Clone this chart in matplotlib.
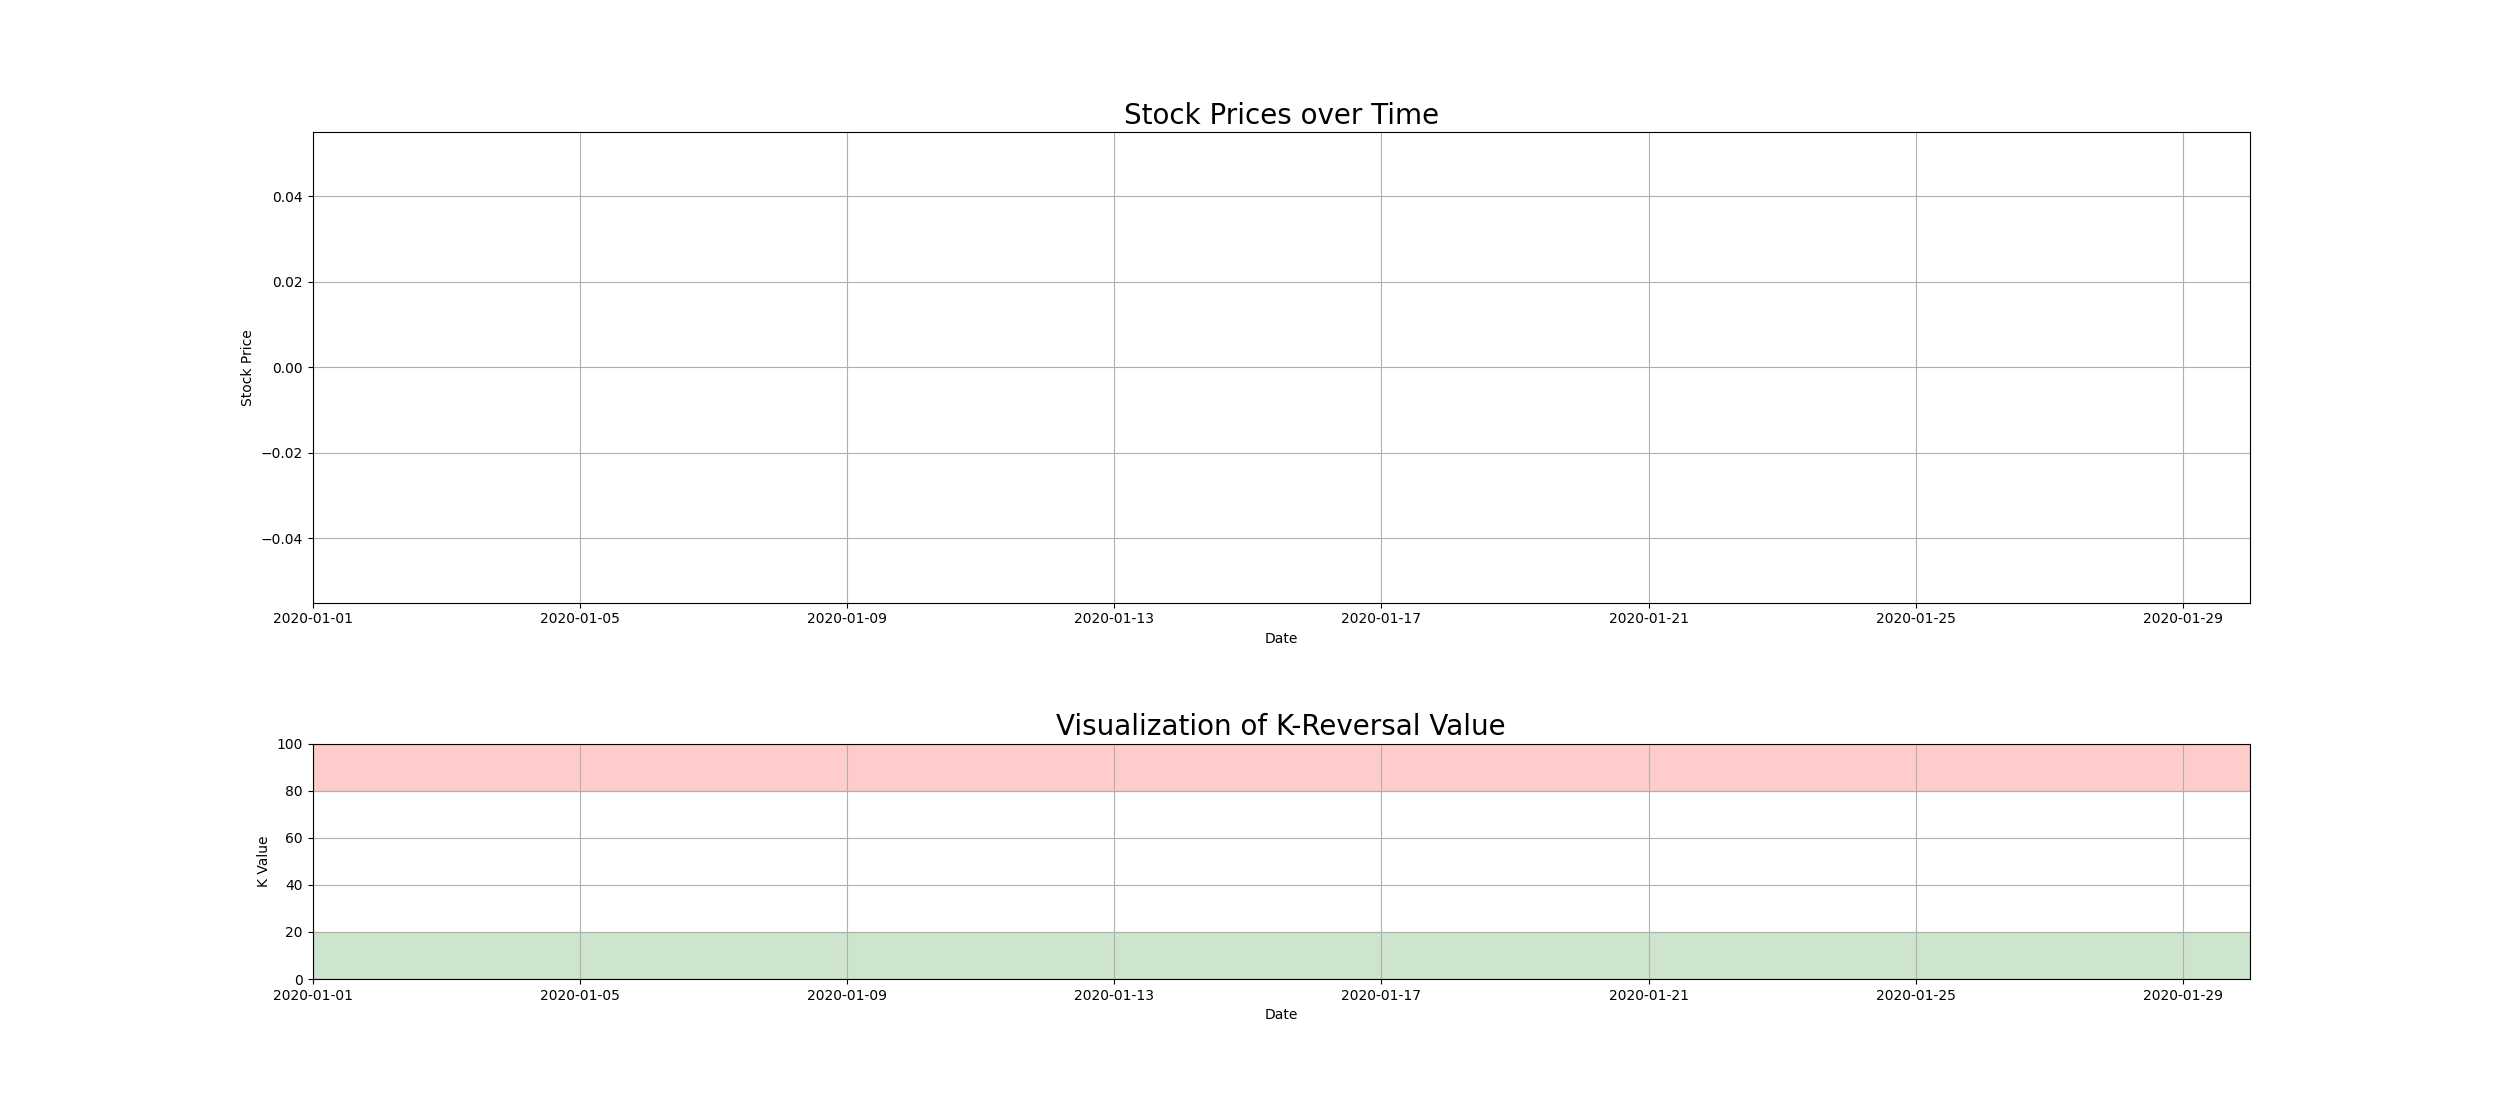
import matplotlib
matplotlib.use("Agg")
import matplotlib.pyplot as plt
import numpy as np
import datetime as dt

# Data (the reference shows no visible price / K data)
start_date = dt.datetime(2020, 1, 1)
end_date = dt.datetime(2020, 1, 30)
price_dates = []
prices = []
k_dates = []
k_values = []
overbought = (80, 100)
oversold = (0, 20)

fig, (ax1, ax2) = plt.subplots(2, 1, figsize=(25, 11), dpi=100,
                               gridspec_kw={"height_ratios": [2, 1], "hspace": 0.4})

ax1.plot(price_dates, prices, color="blue")
ax1.set_ylim(-0.055, 0.055)
ax1.set_xlim(start_date, end_date)
ax1.set_title("Stock Prices over Time", fontsize=20)
ax1.set_xlabel("Date")
ax1.set_ylabel("Stock Price")
ax1.grid(True)

ax2.plot(k_dates, k_values, color="purple")
ax2.axhspan(*overbought, color="red", alpha=0.2)
ax2.axhspan(*oversold, color="green", alpha=0.2)
ax2.set_ylim(0, 100)
ax2.set_xlim(start_date, end_date)
ax2.set_title("Visualization of K-Reversal Value", fontsize=20)
ax2.set_xlabel("Date")
ax2.set_ylabel("K Value")
ax2.grid(True)

import matplotlib.dates as mdates
for ax in (ax1, ax2):
    ax.xaxis.set_major_locator(mdates.DayLocator(bymonthday=[1, 5, 9, 13, 17, 21, 25, 29]))
    ax.xaxis.set_major_formatter(mdates.DateFormatter("%Y-%m-%d"))

fig.savefig("out.png")
